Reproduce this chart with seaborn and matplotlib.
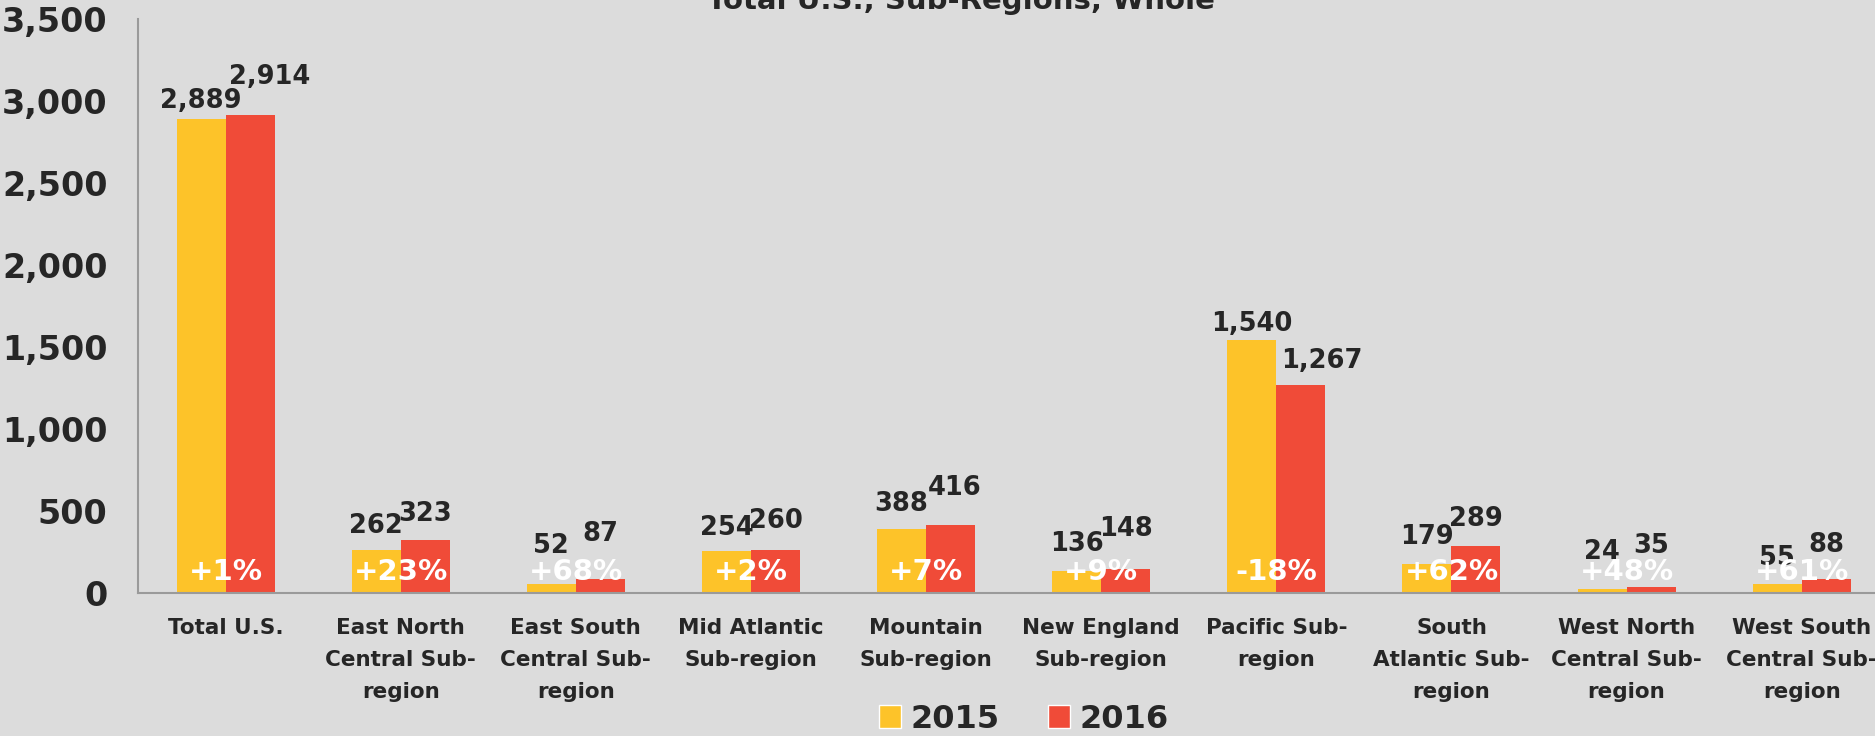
import matplotlib
matplotlib.use("Agg")
import matplotlib.pyplot as plt
import seaborn as sns
import pandas as pd
from matplotlib.patches import Patch
from matplotlib.ticker import FuncFormatter, FixedLocator

# data
regions = ["Total U.S.", "East North\nCentral Sub-\nregion", "East South\nCentral Sub-\nregion",
           "Mid Atlantic\nSub-region", "Mountain\nSub-region", "New England\nSub-region",
           "Pacific Sub-\nregion", "South\nAtlantic Sub-\nregion", "West North\nCentral Sub-\nregion",
           "West South\nCentral Sub-\nregion"]
values_2015 = [2889, 262, 52, 254, 388, 136, 1540, 179, 24, 55]
values_2016 = [2914, 323, 87, 260, 416, 148, 1267, 289, 35, 88]
pct_change = ["+1%", "+23%", "+68%", "+2%", "+7%", "+9%", "-18%", "+62%", "+48%", "+61%"]
years = ["2015", "2016"]

# label placement (pixels above bar top / sideways nudge), as hand-placed in the original
lift_2015 = [21, 26, 41, 26, 28, 29, 19, 29, 39, 28]
lift_2016 = [40, 28, 47, 32, 39, 42, 27, 29, 44, 36]
nudge_2016 = [20, 0, 0, 0, 4, 0, 21, 0, 0, 0]

BG = "#DCDCDC"
YELLOW = "#FDC329"
RED = "#F04B38"
TXT = "#262626"
AXC = "#9A9A9A"
PX = 0.72  # points per pixel at dpi 100

df = pd.DataFrame({
    "region": regions * 2,
    "year": [years[0]] * len(regions) + [years[1]] * len(regions),
    "value": values_2015 + values_2016,
})

sns.set_style("white")
plt.rcParams["font.family"] = ["DejaVu Sans"]
plt.rcParams["font.weight"] = "bold"

fig = plt.figure(figsize=(18.75, 7.36), dpi=100, facecolor=BG)
ax = fig.add_axes([0.0736, 0.1943, 0.934, 0.780])
ax.set_facecolor(BG)

sns.barplot(data=df, x="region", y="value", hue="year", palette=[YELLOW, RED],
            width=0.56, gap=0, saturation=1, linewidth=0, legend=False, ax=ax)

ax.set_xlim(-0.5, len(regions) - 0.5)
ax.set_ylim(0, 3500)
ax.set_yticks(range(0, 3501, 500))
ax.yaxis.set_major_formatter(FuncFormatter(lambda v, p: f"{int(v):,}"))
ax.set_xlabel("")
ax.set_ylabel("")

for s in ["top", "right"]:
    ax.spines[s].set_visible(False)
for s in ["left", "bottom"]:
    ax.spines[s].set_color(AXC)
    ax.spines[s].set_linewidth(1.5)

ax.tick_params(axis="y", which="major", length=4, width=1.5, color=AXC, pad=18,
               labelsize=24, labelcolor=TXT)
ax.tick_params(axis="x", which="major", length=0, pad=18, labelsize=15.5, labelcolor=TXT)
ax.xaxis.set_minor_locator(FixedLocator([i - 0.5 for i in range(len(regions) + 1)]))
ax.tick_params(axis="x", which="minor", length=7, width=1.5, color=AXC, direction="out")
for lab in ax.get_xticklabels():
    lab.set_linespacing(1.75)
    lab.set_fontweight("bold")
for lab in ax.get_yticklabels():
    lab.set_fontweight("bold")

# value labels above the bars
digit_h = 9.4  # half the digit height, px
for bars, vals, lifts, nudges in [(ax.containers[0], values_2015, lift_2015, [0] * len(regions)),
                                  (ax.containers[1], values_2016, lift_2016, nudge_2016)]:
    for bar, v, lift, dx in zip(bars, vals, lifts, nudges):
        xc = bar.get_x() + bar.get_width() / 2
        ax.annotate(f"{v:,}", (xc, bar.get_height()),
                    xytext=(dx * PX, (lift - digit_h) * PX), textcoords="offset points",
                    ha="center", va="baseline", fontsize=18.5, fontweight="bold", color=TXT)

# change labels inside the bars
for i, p in enumerate(pct_change):
    ax.annotate(p, (i, 0), xytext=(0, 12.5 * PX), textcoords="offset points",
                ha="center", va="baseline", fontsize=21, fontweight="bold", color="white")

fig.text(961 / 1875, 0.988, "Total U.S., Sub-Regions, Whole", ha="center", va="baseline",
         fontsize=21, fontweight="bold", color=TXT)

handles = [Patch(facecolor=YELLOW, label=years[0]), Patch(facecolor=RED, label=years[1])]
fig.legend(handles=handles, loc="center", bbox_to_anchor=(1024 / 1875, 1 - 719 / 736),
           ncol=2, frameon=False, handlelength=0.7, handleheight=0.7,
           handletextpad=0.3, columnspacing=1.5, labelcolor=TXT,
           prop={"weight": "bold", "size": 23})

fig.savefig("out.png", dpi=100, facecolor=BG)
